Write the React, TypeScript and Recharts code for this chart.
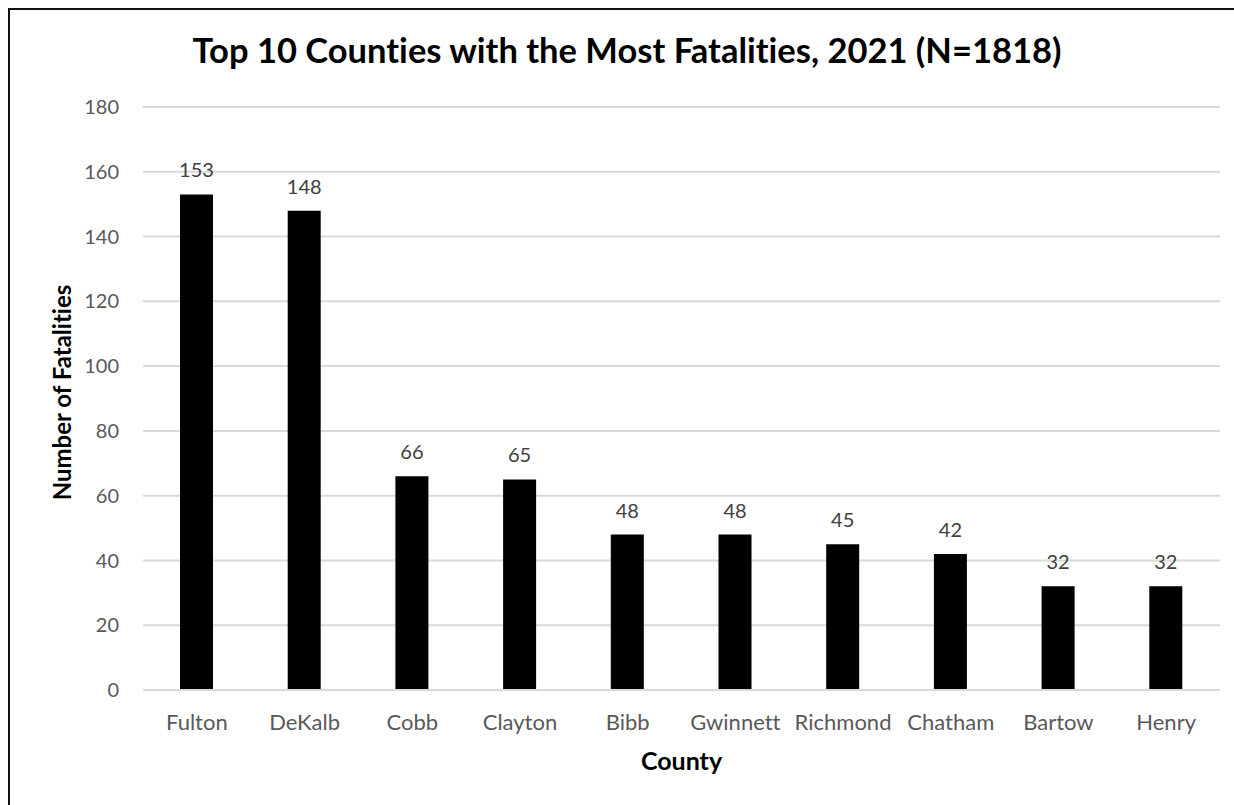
import { BarChart, Bar, XAxis, YAxis, CartesianGrid, LabelList, Label } from 'recharts';

// County fatality counts, 2021
const counties = ['Fulton', 'DeKalb', 'Cobb', 'Clayton', 'Bibb', 'Gwinnett', 'Richmond', 'Chatham', 'Bartow', 'Henry'];
const fatalities = [153, 148, 66, 65, 48, 48, 45, 42, 32, 32];
const yTicks = [0, 20, 40, 60, 80, 100, 120, 140, 160, 180];

const chartData = counties.map((county, i) => ({ county, fatalities: fatalities[i] }));

const FONT = 'Lato, "Open Sans", sans-serif';
const TICK_COLOR = '#595959';
const GRID_COLOR = '#d9d9d9';

export default function App() {
  // the chart frame is wider and taller than the window, so pin it in place
  // (fixed boxes don't add scrollbars)
  return (
    <div
      style={{
        position: 'fixed',
        left: 8,
        top: 8,
        width: 1250,
        height: 820,
        border: '2px solid #111',
        fontFamily: FONT,
        fontVariantLigatures: 'none',
        background: '#fff',
      }}
    >
      <div
        style={{
          position: 'absolute',
          left: 617,
          top: 23,
          transform: 'translateX(-50%)',
          whiteSpace: 'nowrap',
          fontSize: 34.5,
          lineHeight: 1,
          fontWeight: 700,
          color: '#000',
        }}
      >
        Top 10 Counties with the Most Fatalities, 2021 (N=1818)
      </div>
      <BarChart
        width={1240}
        height={800}
        data={chartData}
        margin={{ top: 97, right: 30, left: 0, bottom: 80 }}
        style={{ fontFamily: FONT, position: 'absolute', left: 0, top: 0 }}
      >
        <CartesianGrid vertical={false} stroke={GRID_COLOR} strokeWidth={2} />
        <XAxis
          dataKey="county"
          height={40}
          tickLine={false}
          axisLine={{ stroke: GRID_COLOR, strokeWidth: 2 }}
          tickMargin={18}
          interval={0}
          tick={{ fill: TICK_COLOR, fontSize: 22 }}
        >
          <Label
            content={({ viewBox }) => {
              const vb = viewBox as { x: number; y: number; width: number; height: number };
              return (
                <text
                  x={vb.x + vb.width / 2}
                  y={vb.y + vb.height + 40}
                  textAnchor="middle"
                  fontSize={25}
                  fontWeight={700}
                  fill="#000"
                >
                  County
                </text>
              );
            }}
          />
        </XAxis>
        <YAxis
          width={133}
          domain={[0, 180]}
          ticks={yTicks}
          tickLine={false}
          axisLine={false}
          tickMargin={18}
          tick={{ fill: TICK_COLOR, fontSize: 20 }}
        >
          <Label
            content={({ viewBox }) => {
              const vb = viewBox as { x: number; y: number; width: number; height: number };
              const cx = 61;
              const cy = vb.y + vb.height / 2 - 6;
              return (
                <text
                  x={cx}
                  y={cy}
                  transform={`rotate(-90, ${cx}, ${cy})`}
                  textAnchor="middle"
                  fontSize={24}
                  fontWeight={700}
                  fill="#000"
                >
                  Number of Fatalities
                </text>
              );
            }}
          />
        </YAxis>
        <Bar dataKey="fatalities" fill="#000" barSize={33} isAnimationActive={false}>
          <LabelList dataKey="fatalities" position="top" offset={17} fill="#404040" fontSize={20} />
        </Bar>
      </BarChart>
    </div>
  );
}
